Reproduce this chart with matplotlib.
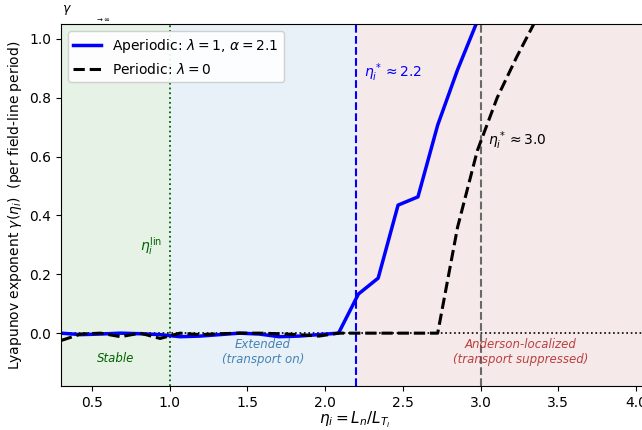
import numpy as np
import matplotlib
matplotlib.use("Agg")
import matplotlib.pyplot as plt

# eta_i grid (30 points between 0.3 and 4.0)
eta = [0.300, 0.428, 0.555, 0.683, 0.810, 0.938, 1.066, 1.193, 1.321, 1.448,
       1.576, 1.703, 1.831, 1.959, 2.086, 2.214, 2.341, 2.469, 2.597, 2.724,
       2.852, 2.979, 3.107, 3.234, 3.362, 3.490, 3.617, 3.745, 3.872, 4.000]

gamma_aper = [0.000, -0.005, -0.003, 0.000, -0.002, -0.005, -0.012, -0.010, -0.005, 0.000,
              -0.003, -0.012, -0.010, -0.005, 0.000, 0.133, 0.187, 0.435, 0.463, 0.707,
              0.895, 1.060, 1.250, 1.420, 1.580, 1.720, 1.850, 1.960, 2.060, 2.150]

gamma_per = [-0.025, -0.003, 0.000, -0.012, 0.000, -0.018, 0.000, -0.005, -0.002, 0.000,
             0.000, -0.002, -0.005, -0.010, 0.000, 0.000, 0.000, 0.000, 0.000, 0.000,
             0.360, 0.620, 0.800, 0.940, 1.070, 1.180, 1.280, 1.370, 1.450, 1.520]

eta_lin = 1.0
eta_star_aper = 2.2
eta_star_per = 3.0

fig = plt.figure(figsize=(6.42, 4.30), dpi=100)
ax = fig.add_axes([0.095, 0.102, 0.915, 0.842])

ax.axvspan(0.3, eta_lin, color='green', alpha=0.1, lw=0)
ax.axvspan(eta_lin, eta_star_aper, color='tab:blue', alpha=0.1, lw=0)
ax.axvspan(eta_star_aper, 4.2, color='brown', alpha=0.1, lw=0)

ax.axhline(0, color='black', ls=':', lw=1.2)
ax.axvline(eta_lin, color='darkgreen', ls=':', lw=1.3)
ax.axvline(eta_star_aper, color='blue', ls='--', lw=1.5)
ax.axvline(eta_star_per, color='dimgray', ls='--', lw=1.5)

ax.plot(eta, gamma_aper, color='blue', lw=2.5, label=r'Aperiodic: $\lambda=1$, $\alpha=2.1$')
ax.plot(eta, gamma_per, color='black', lw=2.2, ls='--', label=r'Periodic: $\lambda=0$')

ax.text(2.25, 0.87, r'$\eta_i^* \approx 2.2$', color='blue', fontsize=10)
ax.text(3.05, 0.64, r'$\eta_i^* \approx 3.0$', color='black', fontsize=10)
ax.text(0.81, 0.28, r'$\eta_i^{\rm lin}$', color='darkgreen', fontsize=10)
ax.text(0.65, -0.087, 'Stable', color='darkgreen', fontsize=8.5, style='italic',
        ha='center', va='center')
ax.text(1.6, -0.065, 'Extended\n(transport on)', color='steelblue', fontsize=8.5,
        style='italic', ha='center', va='center')
ax.text(3.26, -0.065, 'Anderson-localized\n(transport suppressed)', color='firebrick',
        fontsize=8.5, style='italic', ha='center', va='center', alpha=0.85)

ax.set_xlim(0.3, 4.08)
ax.set_ylim(-0.18, 1.05)
ax.set_xticks([0.5, 1.0, 1.5, 2.0, 2.5, 3.0, 3.5, 4.0])
ax.set_yticks([0.0, 0.2, 0.4, 0.6, 0.8, 1.0])
ax.set_xlabel(r'$\eta_i = L_n / L_{T_i}$', fontsize=11, labelpad=0)
ax.set_ylabel(r'Lyapunov exponent $\gamma(\eta_i)$  (per field-line period)', fontsize=10)
ax.legend(loc='upper left', fontsize=10, framealpha=0.9)

fig.text(62 / 642, 1 - 10 / 430, r'$\gamma$', fontsize=9, va='center')
fig.text(95 / 642, 1 - 20 / 430, r'$\to\infty$', fontsize=5, va='center')

fig.savefig('out.png', dpi=100)
